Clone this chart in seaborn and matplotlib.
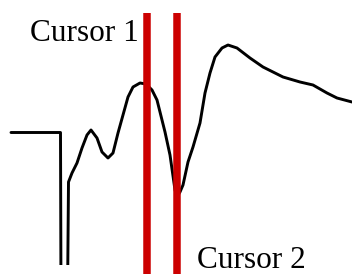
import matplotlib
matplotlib.use("Agg")
import matplotlib.pyplot as plt
import seaborn as sns
import pandas as pd
from matplotlib.patches import Rectangle

# Waveform samples (time, amplitude)
time = [11, 60.5, 61, 67.5, 68.5, 72, 77, 82, 87, 91, 97, 102, 108, 113, 118, 123,
        128, 133, 140, 146, 152, 157, 160, 165, 170, 175, 177, 180, 183, 188, 193,
        200, 205, 210, 215, 222, 228, 237, 250, 263, 283, 300, 313, 327, 337, 352]
amplitude = [141.5, 141.5, -26, -26, 92, 101, 111, 126, 139, 144, 136, 122, 116, 121,
             141, 159, 177, 187, 191, 190, 184, 174, 162, 142, 119, 84, 77, 82,
             89, 112, 127, 151, 181, 201, 217, 226, 229, 226, 216, 207, 197, 192,
             189, 181, 176, 172]

cursor_times = [147, 177]
cursor_labels = ["Cursor 1", "Cursor 2"]
label_pos = [(30, 233), (197, 6)]

sns.set_style("white")
plt.rcParams['font.family'] = ['Liberation Serif', 'DejaVu Serif']

fig = plt.figure(figsize=(3.52, 2.74), dpi=100)
ax = fig.add_axes([0, 0, 1, 1])

df = pd.DataFrame({"time": time, "amplitude": amplitude})
sns.lineplot(data=df, x="time", y="amplitude", sort=False, estimator=None,
             color="black", linewidth=2.1, ax=ax)
line = ax.lines[-1]
line.set_solid_joinstyle("round")
clip = Rectangle((0, 9), 352, 265, transform=ax.transData)
line.set_clip_path(clip)

ax.vlines(cursor_times, ymin=-10, ymax=261, colors="#CC0000", linewidth=5.4,
          capstyle="butt")

for lab, (tx, ty) in zip(cursor_labels, label_pos):
    ax.text(tx, ty, lab, fontsize=22.5, color="black", ha="left", va="baseline")

ax.set_xlim(0, 352)
ax.set_ylim(0, 274)
ax.axis("off")

fig.savefig("out.png", dpi=100)
